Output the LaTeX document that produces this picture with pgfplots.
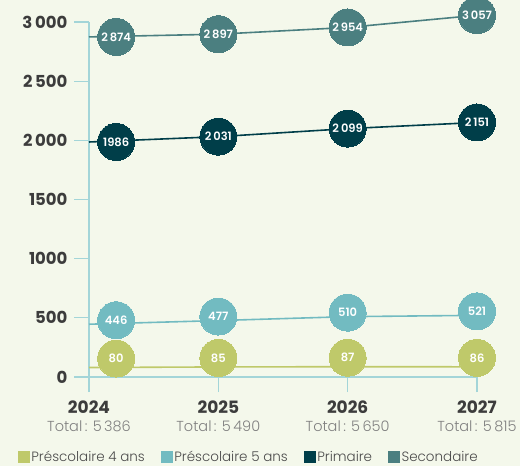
\documentclass[border=0pt]{standalone}
\usepackage{pgfplots}
\pgfplotsset{compat=1.18}
\usepackage{fontspec}
\setmainfont{Poppins}
\newfontfamily\pbold{Poppins Bold}
\newfontfamily\psemi{Poppins SemiBold}
\newfontfamily\plight{Poppins Light}
\definecolor{bg}{HTML}{F4F8EB}
\definecolor{axc}{HTML}{A3D5D8}
\definecolor{tk}{HTML}{3C3C3C}
\definecolor{tot}{HTML}{808080}
\definecolor{leg}{HTML}{4A4A4A}
\definecolor{cA}{HTML}{BFC96A}
\definecolor{cB}{HTML}{72BBC1}
\definecolor{cC}{HTML}{003E49}
\definecolor{cD}{HTML}{4B7F80}
\pgfplotsset{
  circ/.style 2 args={color=#1, only marks, mark=*, mark size=18.5pt,
    mark options={draw=#1, fill=#1, line width=0pt, yshift=#2},
    point meta=explicit symbolic, nodes near coords,
    every node near coord/.append style={anchor=center, text=white, font=\psemi\fontsize{11.5}{11.5}\selectfont}},
  ln/.style={draw=#1, line width=1.6pt, no marks}
}
\begin{document}
\begin{tikzpicture}[x=1pt,y=1pt]
\path[use as bounding box, fill=bg] (0,0) rectangle (520,466);
\begin{axis}[
  at={(89pt,89pt)}, anchor=south west,
  scale only axis, width=388pt, height=355pt,
  xmin=2024, xmax=2027, ymin=0, ymax=3000,
  clip=false,
  axis lines=left, axis line style={draw=axc, line width=1.3pt, -},
  tick style={draw=axc, line width=1.3pt},
  tick align=outside, major tick length=15pt,
  xtick={2024,2025,2026,2027},
  xticklabels={
    {{\pbold\fontsize{17}{17}\selectfont 2024}\\{\plight\color{tot}Total\,: 5\,386}},
    {{\pbold\fontsize{17}{17}\selectfont 2025}\\{\plight\color{tot}Total\,: 5\,490}},
    {{\pbold\fontsize{17}{17}\selectfont 2026}\\{\plight\color{tot}Total\,: 5\,650}},
    {{\pbold\fontsize{17}{17}\selectfont 2027}\\{\plight\color{tot}Total\,: 5\,815}}},
  xticklabel style={align=center, text=tk, font=\fontsize{14.5}{18}\selectfont, inner sep=1pt, yshift=-8pt},
  ytick={0,500,1000,1500,2000,2500,3000},
  yticklabels={0,500,1000,1500,2\,000,2\,500,3\,000},
  yticklabel style={text=tk, font=\pbold\fontsize{16.5}{16.5}\selectfont, xshift=-3pt},
  legend columns=4,
  legend style={at={(axis description cs:0.412,-0.225)}, anchor=center, draw=none, fill=none,
    font=\plight\fontsize{13.5}{13.5}\selectfont, text=leg,
    /tikz/every even column/.append style={column sep=14pt}},
]
\addplot[ln=cD, forget plot] coordinates {(2024,2874) (2025,2897) (2026,2954) (2027,3057)};
\addplot[ln=cC, forget plot] coordinates {(2024,1986) (2025,2031) (2026,2099) (2027,2151)};
\addplot[ln=cB, forget plot] coordinates {(2024,446) (2025,477) (2026,510) (2027,521)};
\addplot[ln=cA, forget plot] coordinates {(2024,80) (2025,85) (2026,87) (2027,86)};

\addplot[circ={cD}{0pt}, forget plot] table[meta=label] {
x y label
2024.21 2874 2\,874
2025 2897 2\,897
2026 2954 2\,954
2027 3057 3\,057
};
\addplot[circ={cC}{0pt}, forget plot] table[meta=label] {
x y label
2024.21 1986 1986
2025 2031 2\,031
2026 2099 2\,099
2027 2151 2\,151
};
\addplot[circ={cB}{4pt}, forget plot] table[meta=label] {
x y label
2024.21 446 446
2025 477 477
2026 510 510
2027 521 521
};
\addplot[circ={cA}{9pt}, forget plot] table[meta=label] {
x y label
2024.21 80 80
2025 85 85
2026 87 87
2027 86 86
};

\addlegendimage{legend image code/.code={\fill[cA] (0pt,-5.5pt) rectangle (11pt,5.5pt);}}
\addlegendentry{Préscolaire 4 ans}
\addlegendimage{legend image code/.code={\fill[cB] (0pt,-5.5pt) rectangle (11pt,5.5pt);}}
\addlegendentry{Préscolaire 5 ans}
\addlegendimage{legend image code/.code={\fill[cC] (0pt,-5.5pt) rectangle (11pt,5.5pt);}}
\addlegendentry{Primaire}
\addlegendimage{legend image code/.code={\fill[cD] (0pt,-5.5pt) rectangle (11pt,5.5pt);}}
\addlegendentry{Secondaire}
\end{axis}
\end{tikzpicture}
\end{document}
